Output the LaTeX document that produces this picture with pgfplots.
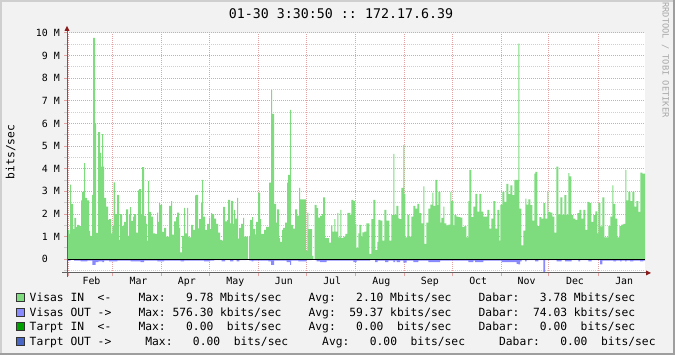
\documentclass[border=0pt]{standalone}
\usepackage{pgfplots}
\usepackage{pgfplotstable}
\pgfplotsset{compat=1.18}
\usepackage{fontspec}
\setmainfont{DejaVu Sans Mono}
\setmonofont{DejaVu Sans Mono}
\frenchspacing
\definecolor{back}{HTML}{F2F2F2}
\definecolor{visin}{HTML}{7EDC7E}
\definecolor{visout}{HTML}{8A8AFF}
\definecolor{tarin}{HTML}{00A000}
\definecolor{tarout}{HTML}{4A66C4}
\definecolor{mgrid}{HTML}{E3A3A3}
\definecolor{ngrid}{HTML}{CFCFCF}
\definecolor{axiscol}{HTML}{606060}
\definecolor{arrowcol}{HTML}{8B1A1A}
\definecolor{shadea}{HTML}{CFCFCF}
\definecolor{shadeb}{HTML}{9E9E9E}
\definecolor{wm}{HTML}{A8A8A8}

% x = pixel offset from the left edge of the plot area, y = Mbits/sec
\pgfplotstableread{
x y
0.3 1.3
2.3 1.12
3.0 3.3
4.0 2.45
6.0 1.33
7.3 1.83
9.0 1.42
10.0 1.52
12.0 1.47
14.0 2.6
15.0 2.98
17.0 4.25
18.0 2.71
20.0 2.6
22.0 1.25
23.0 1.03
25.0 2.85
26.0 9.78
28.0 5.97
29.0 1.17
31.0 5.62
33.0 4.7
34.0 4.1
35.0 5.53
36.0 4.1
37.0 2.71
39.0 2.33
41.0 1.74
42.0 1.77
44.0 1.15
45.3 1.47
46.7 3.4
48.0 2.0
50.0 2.85
52.0 0.86
53.0 2.0
55.0 1.47
57.0 1.65
59.0 2.2
61.0 1.03
62.0 2.0
63.0 2.3
64.0 1.7
66.0 1.89
67.0 2.0
69.0 1.18
71.0 3.04
72.0 3.1
74.0 2.0
75.0 4.07
77.0 1.92
79.0 1.56
80.0 0.83
81.0 3.45
82.0 2.1
84.0 1.89
86.0 1.15
88.0 1.12
90.0 2.06
91.0 1.65
92.0 2.48
93.0 2.39
95.0 1.21
97.0 1.39
99.0 1.0
102.0 2.36
104.0 2.57
105.0 1.09
107.0 1.68
109.0 1.86
110.0 2.06
112.0 1.39
113.0 0.3
115.0 1.03
117.0 2.27
118.0 1.15
120.0 2.27
121.0 1.0
122.0 0.97
124.0 1.52
126.0 1.3
128.0 2.82
129.0 2.85
131.0 1.37
132.0 1.77
134.0 2.48
135.0 3.51
136.0 1.89
138.0 1.3
140.0 1.56
142.0 1.84
143.0 1.33
144.0 2.04
145.0 2.0
147.0 1.8
149.0 1.56
151.0 1.18
153.0 0.86
155.0 0.83
156.0 2.32
158.0 1.68
160.0 1.74
161.0 2.63
163.0 1.59
164.0 2.58
166.0 1.56
167.0 2.18
168.0 1.8
170.0 2.71
171.0 0.91
172.0 1.39
174.0 1.56
176.0 1.83
177.0 1.0
181.0 0
182.0 1.03
183.0 1.74
185.0 1.86
186.0 1.34
188.0 1.1
189.0 1.65
191.0 2.95
193.0 1.77
194.0 1.12
197.0 1.3
199.0 1.43
202.0 3.39
204.0 7.49
205.0 6.43
207.0 2.45
209.0 1.62
210.0 2.21
212.0 0.94
213.0 0.77
215.0 1.3
216.0 1.39
218.0 1.62
220.0 3.39
221.0 3.73
223.0 6.6
224.0 1.52
226.0 1.36
228.0 2.21
230.0 1.93
232.0 3.16
233.0 2.65
239.0 0.38
240.3 2.06
241.3 1.33
245.0 0.15
246.3 0
247.7 2.4
249.7 2.26
251.0 1.84
253.0 1.92
255.0 2.0
256.0 2.74
258.0 0.94
262.0 0.74
264.0 1.5
265.3 1.22
267.3 1.78
268.3 1.22
270.3 2.05
271.3 0.97
273.3 2.18
274.3 0.94
276.3 1.0
278.3 1.12
280.3 2.05
283.3 1.95
284.3 2.63
286.3 2.58
288.3 1.56
289.3 0.5
291.3 1.15
292.3 1.52
294.3 1.0
295.3 1.19
297.3 1.22
299.3 1.59
302.3 0.24
304.3 1.78
306.3 2.63
308.3 0.4
310.3 0.77
311.3 1.74
313.3 1.71
315.3 0.83
317.3 2.18
319.3 1.71
322.3 0.83
324.3 1.95
326.3 4.66
327.3 1.96
329.3 2.36
331.3 1.81
332.3 1.77
334.3 3.16
336.3 5.04
337.3 2.89
338.3 0.97
340.3 1.96
342.3 1.0
344.3 1.89
346.3 2.36
348.3 2.24
350.3 2.45
352.3 2.04
354.3 1.59
356.3 3.22
357.3 0.68
359.3 1.62
361.3 2.24
363.3 2.42
365.3 2.95
366.3 2.36
368.3 3.51
370.3 2.39
371.3 2.98
373.3 1.62
374.3 1.83
376.3 2.33
377.3 1.59
379.3 1.5
381.3 1.53
383.3 2.98
384.3 2.57
386.3 1.5
387.3 1.95
389.3 1.89
391.3 1.86
393.3 1.84
395.3 1.42
397.3 1.47
399.3 0.97
401.3 2.57
402.3 3.95
404.3 1.86
406.3 2.33
408.3 2.89
410.3 2.11
412.3 2.89
414.3 2.11
416.3 1.89
420.3 2.18
422.3 1.36
424.3 1.8
426.3 2.57
428.3 1.36
430.3 2.18
432.3 0.83
433.3 2.4
435.3 2.98
437.3 2.54
439.3 3.33
441.3 2.88
443.3 3.27
445.3 2.83
447.3 3.51
451.3 9.53
452.3 2.24
454.3 0.62
456.3 1.27
458.3 2.68
459.3 2.42
461.3 2.65
463.3 2.39
465.3 1.71
467.3 3.78
468.3 3.86
470.3 1.47
472.3 1.86
474.3 1.8
476.3 2.48
478.3 1.8
480.3 2.98
481.3 2.09
483.3 2.06
485.3 1.89
487.3 1.18
489.3 4.1
491.3 1.98
493.3 2.74
495.3 1.96
497.3 2.83
499.3 1.96
501.3 3.81
502.3 3.66
504.3 1.95
506.3 1.8
508.3 1.74
510.3 2.04
512.3 2.18
514.3 1.8
516.3 2.18
518.3 1.3
520.3 2.54
522.3 2.48
524.3 1.65
526.3 1.95
528.3 2.12
530.3 1.15
531.3 2.48
533.3 1.45
535.3 2.74
537.3 0.97
541.3 1.47
543.3 1.89
545.3 3.27
546.3 2.45
548.3 1.8
550.3 0.97
552.3 1.47
554.3 1.53
556.3 1.56
558.3 3.95
559.3 2.6
561.3 2.98
563.3 2.57
565.3 2.98
567.3 2.33
569.3 2.57
571.3 2.09
573.3 3.83
575.3 3.78
578.0 3.78
}\visasin

\pgfplotstableread{
x y
0.3 -0.06
3.7 -0.03
7.0 -0.06
13.7 -0.09
20.3 -0.06
25.3 -0.25
28.7 -0.13
31.3 -0.09
35.3 -0.13
37.0 -0.06
42.0 -0.09
50.3 -0.06
63.7 -0.09
73.7 -0.13
77.0 -0.06
90.3 -0.09
97.0 -0.06
113.7 -0.09
117.0 -0.06
137.0 -0.09
143.0 -0.06
147.0 -0.04
154.7 -0.09
158.0 -0.04
163.0 -0.09
166.3 -0.04
169.7 -0.09
172.3 -0.04
179.7 0
182.3 -0.06
184.7 -0.09
186.3 -0.06
201.3 -0.09
204.0 -0.25
207.0 -0.06
219.7 -0.13
223.0 -0.25
224.0 -0.06
231.3 -0.09
239.7 -0.04
244.7 0
248.0 -0.04
249.7 -0.09
253.0 -0.13
259.7 -0.06
286.3 -0.13
289.7 -0.06
303.0 -0.04
308.0 -0.13
310.7 -0.06
318.0 -0.13
321.3 -0.06
326.3 -0.13
328.0 -0.06
329.7 -0.13
333.0 -0.06
336.3 -0.15
339.7 -0.06
346.3 -0.13
351.3 -0.06
361.3 -0.13
373.0 -0.06
401.3 -0.13
406.3 -0.06
408.0 -0.13
416.3 -0.06
434.7 -0.13
449.7 -0.2
451.3 -0.22
453.0 -0.09
454.7 -0.04
458.0 -0.09
459.7 -0.04
468.0 -0.09
471.3 -0.04
476.3 -0.58
478.0 -0.04
489.7 -0.09
494.7 -0.04
498.0 -0.09
504.7 -0.04
511.3 -0.09
513.0 -0.04
521.3 -0.09
524.7 -0.04
533.0 -0.22
535.3 -0.06
546.3 -0.09
549.0 -0.06
553.0 -0.09
554.7 -0.06
558.0 -0.09
559.7 -0.06
563.0 -0.09
566.3 -0.06
573.0 -0.09
576.3 -0.06
578.0 -0.06
}\visasout

\newcommand{\lgfont}{\fontsize{11.3}{13}\selectfont}
\newcommand{\axfont}{\fontsize{9.9}{11}\selectfont}

\begin{document}
\begin{tikzpicture}
\useasboundingbox (0pt,0pt) rectangle (675pt,355pt);
\fill[back] (0pt,0pt) rectangle (675pt,355pt);
\fill[shadea] (0pt,353pt) rectangle (675pt,355pt);
\fill[shadea] (0pt,0pt) rectangle (2pt,355pt);
\fill[shadeb] (0pt,0pt) rectangle (675pt,2pt);
\fill[shadeb] (673pt,0pt) rectangle (675pt,355pt);
\begin{axis}[
  at={(67pt,82pt)}, anchor=south west,
  scale only axis, width=578pt, height=240pt,
  xmin=0, xmax=578, ymin=-0.606, ymax=10,
  axis background/.style={fill=white},
  axis lines=left, axis line style={draw=none,-},
  xmajorgrids=true, ymajorgrids=true, yminorgrids=true,
  major grid style={mgrid, line width=1pt, dash pattern=on 1pt off 1pt},
  minor grid style={ngrid, line width=1pt, dash pattern=on 1pt off 1pt},
  tick align=outside, major tick length=3pt, minor tick length=3pt,
  major tick style={mgrid, line width=1pt},
  minor tick style={ngrid, line width=1pt},
  ytick={0,1,2,3,4,5,6,7,8,9,10},
  yticklabels={0\hphantom{~M},1~M,2~M,3~M,4~M,5~M,6~M,7~M,8~M,9~M,10~M},
  minor ytick={-0.5,0.5,1.5,2.5,3.5,4.5,5.5,6.5,7.5,8.5,9.5},
  xtick={1,45.4,94.6,142.2,191.4,239.1,288.2,337.4,385.1,434.3,481.9,531.1},
  xticklabels={},
  extra x ticks={24.5,71.5,119.9,168.3,216.8,265.2,314.3,362.8,411.2,459.6,508,557.2},
  extra x tick labels={Feb,Mar,Apr,May,Jun,Jul,Aug,Sep,Oct,Nov,Dec,Jan},
  extra x tick style={grid=none, major tick length=0pt},
  ticklabel style={font=\axfont, text=black},
  yticklabel style={anchor=east, inner sep=0pt, xshift=-4pt},
  xticklabel style={anchor=north, inner sep=0pt, yshift=-4pt},
]
\addplot[const plot, fill=visin, draw=none] table[x=x,y=y] {\visasin} \closedcycle;
\addplot[const plot, fill=visout, draw=none] table[x=x,y=y] {\visasout} \closedcycle;
\addplot[black, line width=1.5pt] coordinates {(0,0) (578,0)};
\end{axis}
% axes
\draw[axiscol, line width=1pt] (62pt,82pt) -- (646pt,82pt);
\fill[arrowcol] (646pt,79.5pt) -- (651pt,82pt) -- (646pt,84.5pt) -- cycle;
\draw[axiscol, line width=1pt] (67pt,78pt) -- (67pt,324pt);
\fill[arrowcol] (64.5pt,324pt) -- (67pt,329pt) -- (69.5pt,324pt) -- cycle;
% title, unit, watermark
\node[anchor=base, inner sep=0pt, font=\fontsize{13.3}{15}\selectfont] at (341pt,336pt) {01-30 3:30:50 :: 172.17.6.39};
\node[rotate=90, inner sep=0pt, font=\lgfont] at (10.5pt,203pt) {bits/sec};
\node[rotate=-90, inner sep=0pt, text=wm, font=\fontsize{8.7}{10}\selectfont] at (665.5pt,295pt) {RRDTOOL / TOBI OETIKER};
% legend
\foreach \yy/\cc in {57.5/visin, 43/visout, 28.5/tarin, 14/tarout}{
  \filldraw[fill=\cc, draw=black!80, line width=0.8pt] (16pt,\yy pt-4pt) rectangle (24pt,\yy pt+4pt);
}
\node[anchor=base west, inner sep=0pt, font=\lgfont] at (29.5pt,53.4pt) {Visas~IN~~<-~~~~Max:~~~9.78~Mbits/sec~~~~Avg:~~~2.10~Mbits/sec~~~~Dabar:~~~3.78~Mbits/sec};
\node[anchor=base west, inner sep=0pt, font=\lgfont] at (29.5pt,38.9pt) {Visas~OUT~->~~~~Max:~576.30~kbits/sec~~~~Avg:~~59.37~kbits/sec~~~~Dabar:~~74.03~kbits/sec};
\node[anchor=base west, inner sep=0pt, font=\lgfont] at (29.5pt,24.4pt) {Tarpt~IN~~<-~~~~Max:~~~0.00~~bits/sec~~~~Avg:~~~0.00~~bits/sec~~~~Dabar:~~~0.00~~bits/sec};
\node[anchor=base west, inner sep=0pt, font=\lgfont] at (29.5pt,9.9pt) {Tarpt~OUT~->~~~~~Max:~~~0.00~~bits/sec~~~~~Avg:~~~0.00~~bits/sec~~~~~Dabar:~~~0.00~~bits/sec};
\end{tikzpicture}
\end{document}
